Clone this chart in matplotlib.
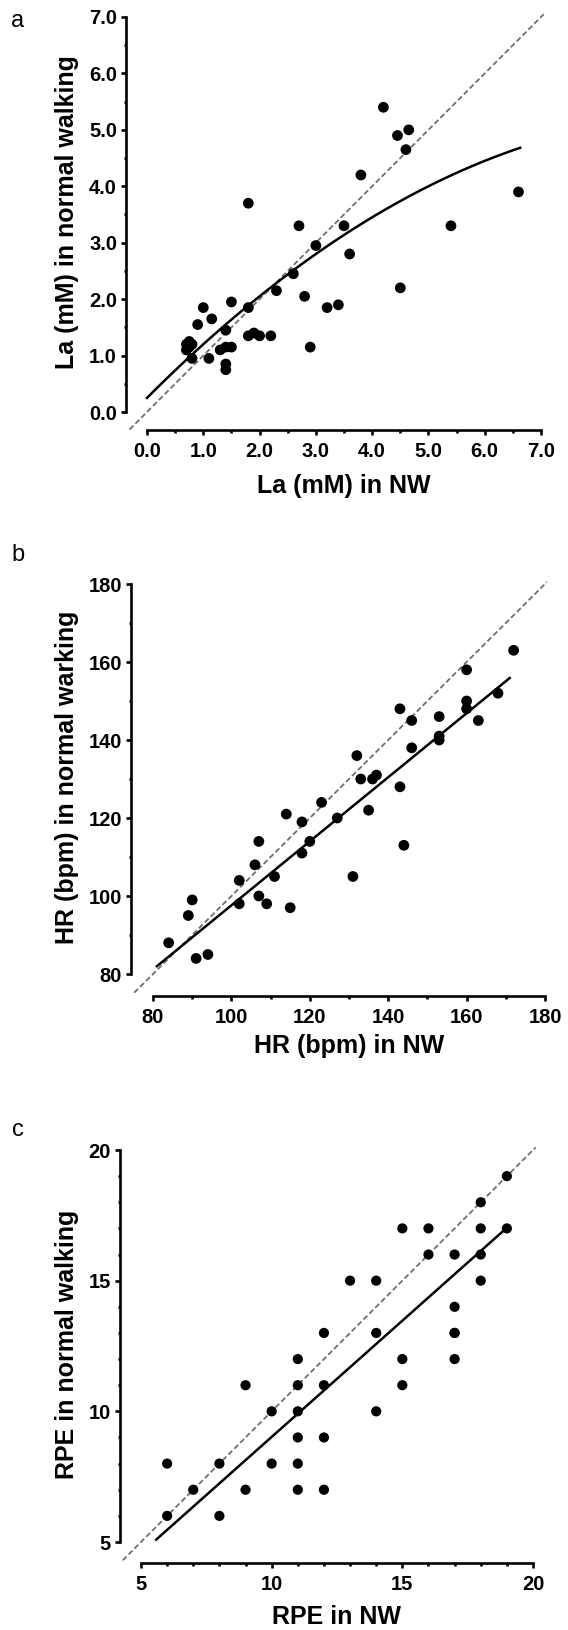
import matplotlib
matplotlib.use('Agg')
import matplotlib.pyplot as plt
import numpy as np
from matplotlib.ticker import FixedLocator

W, H = 568, 1630
DPI = 100

# ---------------- data ----------------
# panel a : lactate
la_nw = [0.7, 0.7, 0.75, 0.8, 0.75, 0.8, 0.9, 1.0, 1.1, 1.15, 1.3, 1.4, 1.5, 1.4, 1.4, 1.4,
         1.5, 1.8, 1.8, 1.9, 2.0, 2.2, 2.3, 2.6, 2.8, 2.9, 3.2, 3.4, 3.0, 3.6, 4.5, 1.8,
         2.7, 3.5, 5.4, 3.8, 4.2, 4.45, 4.65, 4.6, 6.6]
la_normal = [1.1, 1.2, 1.25, 1.2, 1.15, 0.95, 1.55, 1.85, 0.95, 1.65, 1.1, 1.15, 1.15, 1.45, 0.85, 0.75,
             1.95, 1.85, 1.35, 1.4, 1.35, 1.35, 2.15, 2.45, 2.05, 1.15, 1.85, 1.9, 2.95, 2.8, 2.2, 3.7,
             3.3, 3.3, 3.3, 4.2, 5.4, 4.9, 5.0, 4.65, 3.9]
la_fit_coef = [-0.05, 1.0, 0.25]      # quadratic regression (x^2, x, 1)
la_fit_range = [0.0, 6.63]
la_identity = [-0.31, 7.05]
la_ticks = [0, 1, 2, 3, 4, 5, 6, 7]
la_minor = [0.5, 1.5, 2.5, 3.5, 4.5, 5.5, 6.5]

# panel b : heart rate
hr_nw = [84, 89, 90, 91, 94, 102, 102, 106, 107, 107, 109, 111, 114, 115, 118, 118, 120, 123,
         127, 131, 132, 133, 135, 136, 137, 143, 144, 143, 146, 146, 153, 153, 153, 160, 160,
         160, 163, 168, 172]
hr_normal = [88, 95, 99, 84, 85, 104, 98, 108, 114, 100, 98, 105, 121, 97, 119, 111, 114, 124,
             120, 105, 136, 130, 122, 130, 131, 128, 113, 148, 145, 138, 146, 141, 140, 158, 150,
             148, 145, 152, 163]
hr_fit_x = [81, 171]
hr_fit_y = [82.0, 155.9]
hr_identity = [75.2, 180.5]
hr_ticks = [80, 100, 120, 140, 160, 180]
hr_minor = [90, 110, 130, 150, 170]

# panel c : RPE
rpe_nw = [6, 6, 7, 8, 8, 9, 9, 10, 10, 11, 11, 11, 11, 11, 11, 12, 12, 12, 12,
          13, 14, 14, 14, 15, 15, 15, 16, 16, 17, 17, 17, 17, 17, 18, 18, 18, 18, 19, 19]
rpe_normal = [8, 6, 7, 8, 6, 11, 7, 10, 8, 12, 11, 10, 9, 8, 7, 13, 11, 9, 7,
              15, 15, 13, 10, 17, 12, 11, 17, 16, 16, 14, 13, 12, 13, 18, 17, 16, 15, 19, 17]
rpe_fit_x = [5.58, 18.96]
rpe_fit_y = [5.09, 16.99]
rpe_identity = [4.3, 20.1]
rpe_ticks = [5, 10, 15, 20]
rpe_minor = [6, 7, 8, 9, 11, 12, 13, 14, 16, 17, 18, 19]

# ---------------- style ----------------
plt.rcParams['font.family'] = ['Liberation Sans', 'DejaVu Sans']
TICK_FS = 14.5
LABEL_FS = 18
LW_SPINE = 1.9

fig = plt.figure(figsize=(W / DPI, H / DPI), dpi=DPI)
fig.patch.set_facecolor('white')


def make_ax(spine_px_x, x0_px, x1_px, xr, top_px, y0_px, spine_px_y, yr):
    xa, xb = xr
    ya, yb = yr
    sx = (x1_px - x0_px) / (xb - xa)
    xlo = xa - (x0_px - spine_px_x) / sx
    sy = (y0_px - top_px) / (yb - ya)
    ylo = ya - (spine_px_y - y0_px) / sy
    ax = fig.add_axes([spine_px_x / W, 1 - spine_px_y / H,
                       (x1_px - spine_px_x) / W, (spine_px_y - top_px) / H])
    ax.set_xlim(xlo, xb)
    ax.set_ylim(ylo, yb)
    for s in ('top', 'right'):
        ax.spines[s].set_visible(False)
    for s in ('left', 'bottom'):
        ax.spines[s].set_linewidth(LW_SPINE)
    ax.spines['left'].set_bounds(ya, yb)
    ax.spines['bottom'].set_bounds(xa, xb)
    ax.patch.set_alpha(0)
    return ax


def style_ticks(ax, ticks, minor, fmt):
    for axis in (ax.xaxis, ax.yaxis):
        axis.set_major_locator(FixedLocator(ticks))
        axis.set_minor_locator(FixedLocator(minor))
    labels = [fmt.format(t) for t in ticks]
    ax.set_xticklabels(labels, fontsize=TICK_FS, fontweight='bold')
    ax.set_yticklabels(labels, fontsize=TICK_FS, fontweight='bold')
    ax.tick_params(which='major', direction='out', length=3.6, width=LW_SPINE)
    ax.tick_params(which='minor', direction='out', length=1.8, width=LW_SPINE)
    ax.tick_params(axis='y', which='major', pad=2.8)
    ax.tick_params(axis='x', which='major', pad=5.2)


def place_labels(ax, xlabel, ylabel, xl_px, xl_base_py, yl_px, yl_py):
    pos = ax.get_position()
    ax.set_xlabel(xlabel, fontsize=LABEL_FS, fontweight='bold')
    ax.set_ylabel(ylabel, fontsize=LABEL_FS, fontweight='bold')
    ax.xaxis.label.set_va('baseline')
    ax.xaxis.set_label_coords((xl_px / W - pos.x0) / pos.width,
                              ((1 - xl_base_py / H) - pos.y0) / pos.height)
    ax.yaxis.label.set_va('center')
    ax.yaxis.label.set_ha('center')
    ax.yaxis.set_label_coords((yl_px / W - pos.x0) / pos.width,
                              ((1 - yl_py / H) - pos.y0) / pos.height)


DASH_COLOR = '#6e6e6e'
DOT_S = 60

# ---------------- panel a ----------------
axa = make_ax(126, 147, 541, (0, 7), 17, 412, 430, (0, 7))
xs = np.linspace(la_fit_range[0], la_fit_range[1], 100)
axa.plot(la_identity, la_identity, linestyle=(0, (3, 1.6)), color=DASH_COLOR, lw=1.3,
         clip_on=False, zorder=2)
axa.plot(xs, np.polyval(la_fit_coef, xs), color='black', lw=1.8, zorder=3)
axa.scatter(la_nw, la_normal, s=DOT_S, color='black', edgecolors='none', zorder=4)
style_ticks(axa, la_ticks, la_minor, '{:.1f}')
place_labels(axa, 'La (mM) in NW', 'La (mM) in normal walking', 344, 493, 67, 212)

# ---------------- panel b ----------------
axb = make_ax(131, 153, 545, (80, 180), 584, 974, 996, (80, 180))
axb.plot(hr_identity, hr_identity, linestyle=(0, (3, 1.6)), color=DASH_COLOR, lw=1.3,
         clip_on=False, zorder=2)
axb.plot(hr_fit_x, hr_fit_y, color='black', lw=1.8, zorder=3)
axb.scatter(hr_nw, hr_normal, s=DOT_S, color='black', edgecolors='none', zorder=4)
style_ticks(axb, hr_ticks, hr_minor, '{:d}')
place_labels(axb, 'HR (bpm) in NW', 'HR (bpm) in normal warking', 349, 1053, 67, 777)

# ---------------- panel c ----------------
axc = make_ax(120, 141, 533, (5, 20), 1150, 1542, 1563, (5, 20))
axc.plot(rpe_identity, rpe_identity, linestyle=(0, (3, 1.6)), color=DASH_COLOR, lw=1.3,
         clip_on=False, zorder=2)
axc.plot(rpe_fit_x, rpe_fit_y, color='black', lw=1.8, zorder=3)
axc.scatter(rpe_nw, rpe_normal, s=54, color='black', edgecolors='none', zorder=4)
style_ticks(axc, rpe_ticks, rpe_minor, '{:d}')
place_labels(axc, 'RPE in NW', 'RPE in normal walking', 337, 1624, 67, 1344)

# ---------------- panel letters ----------------
for letter, px, py in (('a', 18, 21), ('b', 18, 555), ('c', 18, 1130)):
    fig.text(px / W, 1 - py / H, letter, ha='center', va='center', fontsize=17)

fig.savefig('out.png', dpi=DPI, facecolor='white')
